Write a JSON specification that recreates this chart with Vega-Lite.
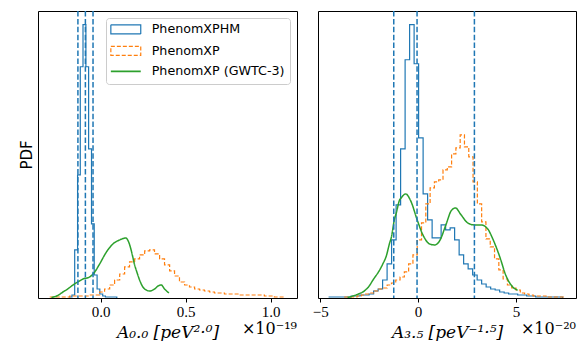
{
  "$schema": "https://vega.github.io/schema/vega-lite/v6.json",
  "padding": {"left": 18, "top": 9, "right": 0, "bottom": 0},
  "background": "white",
  "config": {
    "view": {"stroke": "black", "strokeWidth": 1},
    "axis": {"grid": false, "domain": false, "tickColor": "black", "tickSize": 4, "tickWidth": 1, "labelFont": "Liberation Serif", "labelFontSize": 15, "labelColor": "black", "labelPadding": 2, "minExtent": 0, "titleColor": "black", "titleFontWeight": "normal"},
    "font": "DejaVu Sans"
  },
  "datasets": {
    "left_hist": [
      {"series": "PhenomXPHM", "x": -0.186, "h": 1},
      {"series": "PhenomXPHM", "x": -0.169, "h": 3},
      {"series": "PhenomXPHM", "x": -0.153, "h": 48},
      {"series": "PhenomXPHM", "x": -0.136, "h": 123},
      {"series": "PhenomXPHM", "x": -0.120, "h": 231},
      {"series": "PhenomXPHM", "x": -0.104, "h": 273},
      {"series": "PhenomXPHM", "x": -0.087, "h": 231},
      {"series": "PhenomXPHM", "x": -0.071, "h": 149},
      {"series": "PhenomXPHM", "x": -0.054, "h": 74},
      {"series": "PhenomXPHM", "x": -0.038, "h": 23},
      {"series": "PhenomXPHM", "x": -0.021, "h": 9},
      {"series": "PhenomXPHM", "x": -0.005, "h": 4},
      {"series": "PhenomXPHM", "x": 0.012, "h": 2},
      {"series": "PhenomXPHM", "x": 0.028, "h": 1},
      {"series": "PhenomXPHM", "x": 0.045, "h": 1},
      {"series": "PhenomXPHM", "x": 0.062, "h": 1},
      {"series": "PhenomXPHM", "x": 0.078, "h": 1},
      {"series": "PhenomXPHM", "x": 0.095, "h": 0},
      {"series": "PhenomXP", "x": -0.300, "h": 1},
      {"series": "PhenomXP", "x": -0.271, "h": 1},
      {"series": "PhenomXP", "x": -0.241, "h": 1},
      {"series": "PhenomXP", "x": -0.212, "h": 1},
      {"series": "PhenomXP", "x": -0.182, "h": 2},
      {"series": "PhenomXP", "x": -0.153, "h": 2},
      {"series": "PhenomXP", "x": -0.124, "h": 2},
      {"series": "PhenomXP", "x": -0.094, "h": 2},
      {"series": "PhenomXP", "x": -0.065, "h": 3},
      {"series": "PhenomXP", "x": -0.035, "h": 3},
      {"series": "PhenomXP", "x": -0.006, "h": 6},
      {"series": "PhenomXP", "x": 0.023, "h": 9},
      {"series": "PhenomXP", "x": 0.053, "h": 13},
      {"series": "PhenomXP", "x": 0.082, "h": 18},
      {"series": "PhenomXP", "x": 0.112, "h": 24},
      {"series": "PhenomXP", "x": 0.141, "h": 31},
      {"series": "PhenomXP", "x": 0.170, "h": 36},
      {"series": "PhenomXP", "x": 0.200, "h": 39},
      {"series": "PhenomXP", "x": 0.229, "h": 43},
      {"series": "PhenomXP", "x": 0.259, "h": 47},
      {"series": "PhenomXP", "x": 0.288, "h": 48},
      {"series": "PhenomXP", "x": 0.317, "h": 44},
      {"series": "PhenomXP", "x": 0.347, "h": 39},
      {"series": "PhenomXP", "x": 0.376, "h": 33},
      {"series": "PhenomXP", "x": 0.406, "h": 27},
      {"series": "PhenomXP", "x": 0.435, "h": 22},
      {"series": "PhenomXP", "x": 0.464, "h": 16},
      {"series": "PhenomXP", "x": 0.494, "h": 13},
      {"series": "PhenomXP", "x": 0.523, "h": 11},
      {"series": "PhenomXP", "x": 0.553, "h": 9},
      {"series": "PhenomXP", "x": 0.582, "h": 8},
      {"series": "PhenomXP", "x": 0.611, "h": 7},
      {"series": "PhenomXP", "x": 0.641, "h": 6},
      {"series": "PhenomXP", "x": 0.670, "h": 5},
      {"series": "PhenomXP", "x": 0.700, "h": 5},
      {"series": "PhenomXP", "x": 0.729, "h": 4},
      {"series": "PhenomXP", "x": 0.758, "h": 4},
      {"series": "PhenomXP", "x": 0.788, "h": 4},
      {"series": "PhenomXP", "x": 0.817, "h": 3},
      {"series": "PhenomXP", "x": 0.847, "h": 3},
      {"series": "PhenomXP", "x": 0.876, "h": 3},
      {"series": "PhenomXP", "x": 0.905, "h": 3},
      {"series": "PhenomXP", "x": 0.935, "h": 3},
      {"series": "PhenomXP", "x": 0.964, "h": 2},
      {"series": "PhenomXP", "x": 0.994, "h": 2},
      {"series": "PhenomXP", "x": 1.023, "h": 1},
      {"series": "PhenomXP", "x": 1.052, "h": 1},
      {"series": "PhenomXP", "x": 1.082, "h": 0}
    ],
    "left_kde": [
      {"series": "PhenomXP (GWTC-3)", "x": -0.290, "h": 0.5},
      {"series": "PhenomXP (GWTC-3)", "x": -0.259, "h": 2},
      {"series": "PhenomXP (GWTC-3)", "x": -0.222, "h": 6},
      {"series": "PhenomXP (GWTC-3)", "x": -0.194, "h": 9},
      {"series": "PhenomXP (GWTC-3)", "x": -0.163, "h": 13},
      {"series": "PhenomXP (GWTC-3)", "x": -0.135, "h": 16},
      {"series": "PhenomXP (GWTC-3)", "x": -0.104, "h": 19},
      {"series": "PhenomXP (GWTC-3)", "x": -0.065, "h": 21},
      {"series": "PhenomXP (GWTC-3)", "x": -0.035, "h": 26},
      {"series": "PhenomXP (GWTC-3)", "x": -0.006, "h": 34},
      {"series": "PhenomXP (GWTC-3)", "x": 0.034, "h": 46},
      {"series": "PhenomXP (GWTC-3)", "x": 0.072, "h": 54},
      {"series": "PhenomXP (GWTC-3)", "x": 0.112, "h": 58},
      {"series": "PhenomXP (GWTC-3)", "x": 0.147, "h": 60},
      {"series": "PhenomXP (GWTC-3)", "x": 0.171, "h": 53},
      {"series": "PhenomXP (GWTC-3)", "x": 0.185, "h": 44},
      {"series": "PhenomXP (GWTC-3)", "x": 0.200, "h": 33},
      {"series": "PhenomXP (GWTC-3)", "x": 0.215, "h": 25},
      {"series": "PhenomXP (GWTC-3)", "x": 0.229, "h": 18},
      {"series": "PhenomXP (GWTC-3)", "x": 0.259, "h": 9},
      {"series": "PhenomXP (GWTC-3)", "x": 0.288, "h": 7},
      {"series": "PhenomXP (GWTC-3)", "x": 0.318, "h": 9},
      {"series": "PhenomXP (GWTC-3)", "x": 0.338, "h": 12},
      {"series": "PhenomXP (GWTC-3)", "x": 0.357, "h": 13},
      {"series": "PhenomXP (GWTC-3)", "x": 0.376, "h": 9},
      {"series": "PhenomXP (GWTC-3)", "x": 0.402, "h": 5}
    ],
    "left_ci": [{"x": -0.134}, {"x": -0.090}, {"x": -0.045}],
    "right_hist": [
      {"series": "PhenomXPHM", "x": -4.57, "h": 1},
      {"series": "PhenomXPHM", "x": -4.34, "h": 1},
      {"series": "PhenomXPHM", "x": -4.11, "h": 1},
      {"series": "PhenomXPHM", "x": -3.88, "h": 1},
      {"series": "PhenomXPHM", "x": -3.65, "h": 1},
      {"series": "PhenomXPHM", "x": -3.42, "h": 2},
      {"series": "PhenomXPHM", "x": -3.19, "h": 2},
      {"series": "PhenomXPHM", "x": -2.96, "h": 3},
      {"series": "PhenomXPHM", "x": -2.73, "h": 3},
      {"series": "PhenomXPHM", "x": -2.50, "h": 4},
      {"series": "PhenomXPHM", "x": -2.27, "h": 7},
      {"series": "PhenomXPHM", "x": -2.04, "h": 9},
      {"series": "PhenomXPHM", "x": -1.81, "h": 18},
      {"series": "PhenomXPHM", "x": -1.58, "h": 34},
      {"series": "PhenomXPHM", "x": -1.35, "h": 58},
      {"series": "PhenomXPHM", "x": -1.12, "h": 93},
      {"series": "PhenomXPHM", "x": -0.89, "h": 149},
      {"series": "PhenomXPHM", "x": -0.66, "h": 238},
      {"series": "PhenomXPHM", "x": -0.43, "h": 273},
      {"series": "PhenomXPHM", "x": -0.20, "h": 234},
      {"series": "PhenomXPHM", "x": 0.03, "h": 160},
      {"series": "PhenomXPHM", "x": 0.26, "h": 104},
      {"series": "PhenomXPHM", "x": 0.49, "h": 78},
      {"series": "PhenomXPHM", "x": 0.72, "h": 60},
      {"series": "PhenomXPHM", "x": 0.95, "h": 60},
      {"series": "PhenomXPHM", "x": 1.18, "h": 73},
      {"series": "PhenomXPHM", "x": 1.41, "h": 68},
      {"series": "PhenomXPHM", "x": 1.64, "h": 70},
      {"series": "PhenomXPHM", "x": 1.87, "h": 58},
      {"series": "PhenomXPHM", "x": 2.10, "h": 43},
      {"series": "PhenomXPHM", "x": 2.33, "h": 34},
      {"series": "PhenomXPHM", "x": 2.56, "h": 29},
      {"series": "PhenomXPHM", "x": 2.79, "h": 23},
      {"series": "PhenomXPHM", "x": 3.02, "h": 18},
      {"series": "PhenomXPHM", "x": 3.25, "h": 14},
      {"series": "PhenomXPHM", "x": 3.48, "h": 11},
      {"series": "PhenomXPHM", "x": 3.71, "h": 9},
      {"series": "PhenomXPHM", "x": 3.94, "h": 8},
      {"series": "PhenomXPHM", "x": 4.17, "h": 6},
      {"series": "PhenomXPHM", "x": 4.40, "h": 5},
      {"series": "PhenomXPHM", "x": 4.63, "h": 4},
      {"series": "PhenomXPHM", "x": 4.86, "h": 4},
      {"series": "PhenomXPHM", "x": 5.09, "h": 3},
      {"series": "PhenomXPHM", "x": 5.32, "h": 3},
      {"series": "PhenomXPHM", "x": 5.55, "h": 2},
      {"series": "PhenomXPHM", "x": 5.78, "h": 2},
      {"series": "PhenomXPHM", "x": 6.01, "h": 1},
      {"series": "PhenomXPHM", "x": 6.24, "h": 1},
      {"series": "PhenomXPHM", "x": 6.47, "h": 1},
      {"series": "PhenomXPHM", "x": 6.70, "h": 1},
      {"series": "PhenomXPHM", "x": 6.93, "h": 1},
      {"series": "PhenomXPHM", "x": 7.16, "h": 1},
      {"series": "PhenomXPHM", "x": 7.39, "h": 0},
      {"series": "PhenomXP", "x": -3.771, "h": 1},
      {"series": "PhenomXP", "x": -3.551, "h": 1},
      {"series": "PhenomXP", "x": -3.332, "h": 1},
      {"series": "PhenomXP", "x": -3.113, "h": 2},
      {"series": "PhenomXP", "x": -2.893, "h": 3},
      {"series": "PhenomXP", "x": -2.674, "h": 4},
      {"series": "PhenomXP", "x": -2.454, "h": 5},
      {"series": "PhenomXP", "x": -2.235, "h": 7},
      {"series": "PhenomXP", "x": -2.016, "h": 9},
      {"series": "PhenomXP", "x": -1.796, "h": 10},
      {"series": "PhenomXP", "x": -1.577, "h": 13},
      {"series": "PhenomXP", "x": -1.357, "h": 15},
      {"series": "PhenomXP", "x": -1.138, "h": 18},
      {"series": "PhenomXP", "x": -0.919, "h": 21},
      {"series": "PhenomXP", "x": -0.699, "h": 26},
      {"series": "PhenomXP", "x": -0.480, "h": 34},
      {"series": "PhenomXP", "x": -0.260, "h": 43},
      {"series": "PhenomXP", "x": -0.041, "h": 58},
      {"series": "PhenomXP", "x": 0.178, "h": 75},
      {"series": "PhenomXP", "x": 0.398, "h": 94},
      {"series": "PhenomXP", "x": 0.617, "h": 110},
      {"series": "PhenomXP", "x": 0.837, "h": 116},
      {"series": "PhenomXP", "x": 1.056, "h": 118},
      {"series": "PhenomXP", "x": 1.276, "h": 128},
      {"series": "PhenomXP", "x": 1.495, "h": 131},
      {"series": "PhenomXP", "x": 1.715, "h": 144},
      {"series": "PhenomXP", "x": 1.934, "h": 150},
      {"series": "PhenomXP", "x": 2.153, "h": 163},
      {"series": "PhenomXP", "x": 2.372, "h": 151},
      {"series": "PhenomXP", "x": 2.592, "h": 141},
      {"series": "PhenomXP", "x": 2.811, "h": 116},
      {"series": "PhenomXP", "x": 3.031, "h": 94},
      {"series": "PhenomXP", "x": 3.250, "h": 76},
      {"series": "PhenomXP", "x": 3.469, "h": 59},
      {"series": "PhenomXP", "x": 3.689, "h": 51},
      {"series": "PhenomXP", "x": 3.908, "h": 39},
      {"series": "PhenomXP", "x": 4.128, "h": 28},
      {"series": "PhenomXP", "x": 4.347, "h": 19},
      {"series": "PhenomXP", "x": 4.567, "h": 13},
      {"series": "PhenomXP", "x": 4.786, "h": 10},
      {"series": "PhenomXP", "x": 5.005, "h": 8},
      {"series": "PhenomXP", "x": 5.225, "h": 5},
      {"series": "PhenomXP", "x": 5.444, "h": 4},
      {"series": "PhenomXP", "x": 5.664, "h": 3},
      {"series": "PhenomXP", "x": 5.883, "h": 2},
      {"series": "PhenomXP", "x": 6.102, "h": 2},
      {"series": "PhenomXP", "x": 6.322, "h": 2},
      {"series": "PhenomXP", "x": 6.541, "h": 1},
      {"series": "PhenomXP", "x": 6.761, "h": 1},
      {"series": "PhenomXP", "x": 6.980, "h": 1},
      {"series": "PhenomXP", "x": 7.199, "h": 1},
      {"series": "PhenomXP", "x": 7.419, "h": 0}
    ],
    "right_kde": [
      {"series": "PhenomXP (GWTC-3)", "x": -3.60, "h": 0.5},
      {"series": "PhenomXP (GWTC-3)", "x": -3.33, "h": 2},
      {"series": "PhenomXP (GWTC-3)", "x": -2.98, "h": 4.5},
      {"series": "PhenomXP (GWTC-3)", "x": -2.82, "h": 6},
      {"series": "PhenomXP (GWTC-3)", "x": -2.47, "h": 12.7},
      {"series": "PhenomXP (GWTC-3)", "x": -2.31, "h": 17.7},
      {"series": "PhenomXP (GWTC-3)", "x": -1.96, "h": 28},
      {"series": "PhenomXP (GWTC-3)", "x": -1.80, "h": 34},
      {"series": "PhenomXP (GWTC-3)", "x": -1.62, "h": 42},
      {"series": "PhenomXP (GWTC-3)", "x": -1.45, "h": 55},
      {"series": "PhenomXP (GWTC-3)", "x": -1.37, "h": 60},
      {"series": "PhenomXP (GWTC-3)", "x": -1.20, "h": 79},
      {"series": "PhenomXP (GWTC-3)", "x": -1.11, "h": 85},
      {"series": "PhenomXP (GWTC-3)", "x": -0.94, "h": 98},
      {"series": "PhenomXP (GWTC-3)", "x": -0.86, "h": 100},
      {"series": "PhenomXP (GWTC-3)", "x": -0.64, "h": 104},
      {"series": "PhenomXP (GWTC-3)", "x": -0.35, "h": 96},
      {"series": "PhenomXP (GWTC-3)", "x": -0.06, "h": 79},
      {"series": "PhenomXP (GWTC-3)", "x": 0.25, "h": 63},
      {"series": "PhenomXP (GWTC-3)", "x": 0.33, "h": 60},
      {"series": "PhenomXP (GWTC-3)", "x": 0.59, "h": 54},
      {"series": "PhenomXP (GWTC-3)", "x": 0.84, "h": 53},
      {"series": "PhenomXP (GWTC-3)", "x": 1.10, "h": 57},
      {"series": "PhenomXP (GWTC-3)", "x": 1.44, "h": 74},
      {"series": "PhenomXP (GWTC-3)", "x": 1.69, "h": 87},
      {"series": "PhenomXP (GWTC-3)", "x": 1.91, "h": 90},
      {"series": "PhenomXP (GWTC-3)", "x": 2.20, "h": 83},
      {"series": "PhenomXP (GWTC-3)", "x": 2.54, "h": 75},
      {"series": "PhenomXP (GWTC-3)", "x": 2.88, "h": 73},
      {"series": "PhenomXP (GWTC-3)", "x": 3.22, "h": 73},
      {"series": "PhenomXP (GWTC-3)", "x": 3.56, "h": 69},
      {"series": "PhenomXP (GWTC-3)", "x": 3.82, "h": 59},
      {"series": "PhenomXP (GWTC-3)", "x": 4.16, "h": 42},
      {"series": "PhenomXP (GWTC-3)", "x": 4.50, "h": 22},
      {"series": "PhenomXP (GWTC-3)", "x": 4.84, "h": 11},
      {"series": "PhenomXP (GWTC-3)", "x": 5.09, "h": 7.7}
    ],
    "right_ci": [{"x": -1.24}, {"x": -0.05}, {"x": 2.88}]
  },
  "spacing": 13,
  "resolve": {"scale": {"color": "independent", "strokeDash": "independent"}, "legend": {"color": "independent", "strokeDash": "independent"}},
  "hconcat": [
    {
      "width": 259,
      "height": 287,
      "title": {"text": "×10⁻¹⁹", "orient": "bottom", "anchor": "end", "frame": "group", "offset": -19, "font": "DejaVu Serif", "fontSize": 16, "fontWeight": "normal", "color": "black"},
      "layer": [
        {
          "data": {"name": "left_hist"},
          "mark": {"type": "line", "interpolate": "step-after", "strokeWidth": 1.2, "clip": true},
          "encoding": {
            "x": {"field": "x", "type": "quantitative", "scale": {"domain": [-0.369, 1.156], "nice": false, "zero": false},
                  "axis": {"title": "A₀.₀ [peV²·⁰]", "values": [0, 0.5, 1], "format": ".1f", "titleFont": "DejaVu Serif", "titleFontStyle": "italic", "titleFontSize": 17, "titlePadding": 5}},
            "y": {"field": "h", "type": "quantitative", "scale": {"domain": [0, 286.7], "nice": false},
                  "axis": {"title": "PDF", "labels": false, "ticks": false, "titleFont": "DejaVu Sans", "titleFontSize": 15, "titlePadding": 4}},
            "color": {"field": "series", "type": "nominal",
                      "scale": {"domain": ["PhenomXPHM", "PhenomXP", "PhenomXP (GWTC-3)"], "range": ["#1f77b4", "#ff7f0e", "#2ca02c"]},
                      "legend": {"title": null, "orient": "top-right", "offset": 7, "labelFont": "DejaVu Sans", "labelFontSize": 12.7, "labelColor": "black", "symbolSize": 169, "symbolStrokeWidth": 1.2, "labelOffset": 28, "padding": 5, "rowPadding": 6.5, "fillColor": "rgba(255,255,255,0.8)", "strokeColor": "#cccccc", "cornerRadius": 3,
                                 "encode": {"symbols": {"update": {"shape": {"signal": "datum.value === 'PhenomXP (GWTC-3)' ? 'M-1,0H3.6' : 'M-1,-0.7H3.6V0.7H-1Z'"}, "strokeWidth": {"signal": "datum.value === 'PhenomXP (GWTC-3)' ? 1.6 : 1.2"}, "fill": {"value": "transparent"}}}}},
                      "sort": null},
            "strokeDash": {"field": "series", "type": "nominal",
                           "scale": {"domain": ["PhenomXPHM", "PhenomXP", "PhenomXP (GWTC-3)"], "range": [[1, 0], [4, 2], [1, 0]]}}
          }
        },
        {
          "data": {"name": "left_kde"},
          "mark": {"type": "line", "interpolate": "monotone", "strokeWidth": 1.5, "clip": true},
          "encoding": {
            "x": {"field": "x", "type": "quantitative"},
            "y": {"field": "h", "type": "quantitative"},
            "color": {"field": "series", "type": "nominal"},
            "strokeDash": {"field": "series", "type": "nominal"}
          }
        },
        {
          "data": {"name": "left_ci"},
          "mark": {"type": "rule", "color": "#1f77b4", "strokeWidth": 1.5, "strokeDash": [5.5, 2.4]},
          "encoding": {"x": {"field": "x", "type": "quantitative"}}
        }
      ]
    },
    {
      "width": 258,
      "height": 287,
      "title": {"text": "×10⁻²⁰", "orient": "bottom", "anchor": "end", "frame": "group", "offset": -19, "font": "DejaVu Serif", "fontSize": 16, "fontWeight": "normal", "color": "black"},
      "layer": [
        {
          "data": {"name": "right_hist"},
          "mark": {"type": "line", "interpolate": "step-after", "strokeWidth": 1.2, "clip": true},
          "encoding": {
            "x": {"field": "x", "type": "quantitative", "scale": {"domain": [-5.11, 8.07], "nice": false, "zero": false},
                  "axis": {"title": "A₃.₅ [peV⁻¹·⁵]", "values": [-5, 0, 5], "format": "d", "titleFont": "DejaVu Serif", "titleFontStyle": "italic", "titleFontSize": 17, "titlePadding": 5}},
            "y": {"field": "h", "type": "quantitative", "scale": {"domain": [0, 286.7], "nice": false}, "axis": null},
            "color": {"field": "series", "type": "nominal",
                      "scale": {"domain": ["PhenomXPHM", "PhenomXP", "PhenomXP (GWTC-3)"], "range": ["#1f77b4", "#ff7f0e", "#2ca02c"]}, "legend": null},
            "strokeDash": {"field": "series", "type": "nominal",
                           "scale": {"domain": ["PhenomXPHM", "PhenomXP", "PhenomXP (GWTC-3)"], "range": [[1, 0], [4, 2], [1, 0]]}, "legend": null}
          }
        },
        {
          "data": {"name": "right_kde"},
          "mark": {"type": "line", "interpolate": "monotone", "strokeWidth": 1.5, "clip": true},
          "encoding": {
            "x": {"field": "x", "type": "quantitative"},
            "y": {"field": "h", "type": "quantitative"},
            "color": {"field": "series", "type": "nominal", "legend": null},
            "strokeDash": {"field": "series", "type": "nominal", "legend": null}
          }
        },
        {
          "data": {"name": "right_ci"},
          "mark": {"type": "rule", "color": "#1f77b4", "strokeWidth": 1.5, "strokeDash": [5.5, 2.4]},
          "encoding": {"x": {"field": "x", "type": "quantitative"}}
        }
      ]
    }
  ]
}
